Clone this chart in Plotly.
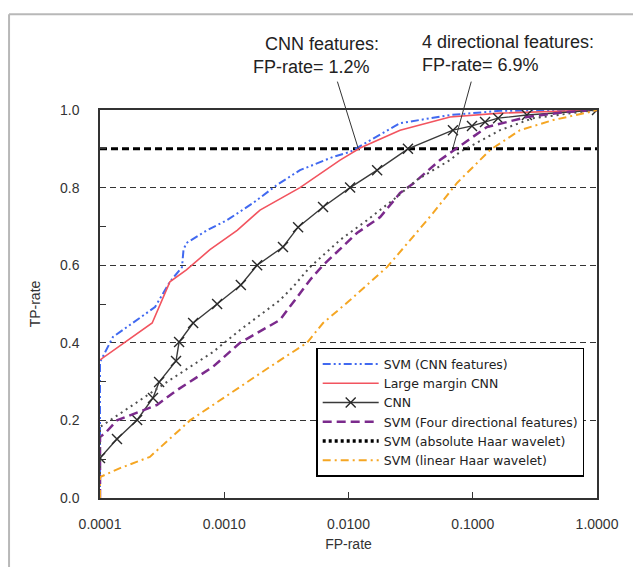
import plotly.graph_objects as go
import math

# ---------------- data ----------------
svm_cnn_x = [0.0001, 0.0001, 0.000127, 0.000277, 0.000365, 0.000457, 0.000470, 0.000496, 0.000726, 0.00105, 0.0017, 0.00266, 0.00407, 0.0075, 0.0103, 0.026, 0.0656, 0.166, 1.0]
svm_cnn_y = [0.0, 0.35, 0.415, 0.492, 0.557, 0.595, 0.64, 0.657, 0.69, 0.716, 0.76, 0.807, 0.845, 0.879, 0.892, 0.966, 0.987, 0.998, 1.0]

lm_cnn_x = [0.0001, 0.000263, 0.000365, 0.000496, 0.000767, 0.00127, 0.00194, 0.00407, 0.00855, 0.0124, 0.026, 0.0656, 0.166, 0.305, 1.0]
lm_cnn_y = [0.356, 0.451, 0.557, 0.588, 0.64, 0.69, 0.742, 0.80, 0.871, 0.902, 0.948, 0.982, 0.992, 0.995, 1.0]

cnn_x = [0.0001, 0.000137, 0.000199, 0.000267, 0.000299, 0.000409, 0.000433, 0.000562, 0.000876, 0.00136, 0.00184, 0.00297, 0.00393, 0.00624, 0.0103, 0.017, 0.0301, 0.0693, 0.0986, 0.1256, 0.16, 0.273, 1.0]
cnn_y = [0.103, 0.152, 0.201, 0.258, 0.299, 0.353, 0.402, 0.451, 0.50, 0.549, 0.60, 0.647, 0.698, 0.75, 0.80, 0.845, 0.90, 0.948, 0.959, 0.969, 0.979, 0.987, 1.0]

four_dir_x = [0.0001, 0.0001, 0.00011, 0.000137, 0.000288, 0.000416, 0.00081, 0.00134, 0.00281, 0.0049, 0.00624, 0.0117, 0.018, 0.026, 0.033, 0.0545, 0.0747, 0.13, 0.273, 0.574, 1.0]
four_dir_y = [0.0, 0.157, 0.167, 0.20, 0.24, 0.278, 0.338, 0.40, 0.459, 0.562, 0.60, 0.683, 0.724, 0.786, 0.81, 0.871, 0.902, 0.956, 0.982, 0.995, 1.0]

abs_haar_x = [0.0001, 0.0001, 0.000175, 0.000365, 0.00081, 0.00134, 0.00281, 0.00357, 0.0049, 0.00855, 0.0141, 0.0245, 0.0356, 0.0656, 0.0789, 0.166, 0.305, 0.77, 1.0]
abs_haar_y = [0.0, 0.183, 0.235, 0.304, 0.376, 0.433, 0.51, 0.544, 0.595, 0.665, 0.716, 0.776, 0.82, 0.871, 0.892, 0.948, 0.979, 0.995, 1.0]

lin_haar_x = [0.0001, 0.0001, 0.000145, 0.000252, 0.00053, 0.00111, 0.00233, 0.00463, 0.00624, 0.0103, 0.0204, 0.033, 0.0478, 0.0747, 0.138, 0.24, 0.443, 0.88, 1.0]
lin_haar_y = [0.0, 0.054, 0.077, 0.106, 0.20, 0.27, 0.338, 0.40, 0.451, 0.51, 0.595, 0.673, 0.734, 0.812, 0.897, 0.948, 0.974, 0.995, 1.0]

threshold_tp = 0.9

x_tick_vals = [0.0001, 0.001, 0.01, 0.1, 1.0]
x_tick_text = ["0.0001", "0.0010", "0.0100", "0.1000", "1.0000"]
y_tick_vals = [0.0, 0.2, 0.4, 0.6, 0.8, 1.0]
y_tick_text = ["0.0", "0.2", "0.4", "0.6", "0.8", "1.0"]

names = ["SVM (CNN features)", "Large margin CNN", "CNN",
         "SVM (Four directional features)", "SVM (absolute Haar wavelet)",
         "SVM (linear Haar wavelet)"]

# annotation pointers
cnn_feat_fp = 0.012
dir_feat_fp = 0.069
cnn_tail = (0.00807, 1.077)
dir_tail = (0.098, 1.077)

FONT = "Liberation Sans, Arial, sans-serif"

fig = go.Figure()

fig.add_trace(go.Scatter(x=svm_cnn_x, y=svm_cnn_y, mode="lines", name=names[0],
                         line=dict(color="#4169f0", width=2, dash="8px,3px,2px,3px,2px,3px")))
fig.add_trace(go.Scatter(x=lm_cnn_x, y=lm_cnn_y, mode="lines", name=names[1],
                         line=dict(color="#f2545f", width=1.6)))
fig.add_trace(go.Scatter(x=cnn_x, y=cnn_y, mode="lines+markers", name=names[2],
                         line=dict(color="#3a3a3a", width=1.4),
                         marker=dict(symbol="x-thin", size=10, line=dict(color="#2a2a2a", width=1.4))))
fig.add_trace(go.Scatter(x=four_dir_x, y=four_dir_y, mode="lines", name=names[3],
                         line=dict(color="#7b2a8c", width=2.5, dash="9px,5px")))
# absolute Haar: plotted as dark dotted curve, legend shows thick black dots
fig.add_trace(go.Scatter(x=abs_haar_x, y=abs_haar_y, mode="lines", showlegend=False,
                         line=dict(color="#505050", width=2, dash="2px,4px")))
fig.add_trace(go.Scatter(x=[None], y=[None], mode="lines", name=names[4],
                         line=dict(color="#000000", width=3.5, dash="3px,3px")))
fig.add_trace(go.Scatter(x=lin_haar_x, y=lin_haar_y, mode="lines", name=names[5],
                         line=dict(color="#f5a623", width=2, dash="8px,4px,2px,4px")))

shapes = []
# outer frame (gray border at left/top)
shapes.append(dict(type="line", xref="paper", yref="paper", x0=-0.183, x1=1.2, y0=1.247, y1=1.247,
                   line=dict(color="#b8b8b8", width=2)))
shapes.append(dict(type="line", xref="paper", yref="paper", x0=-0.183, x1=-0.183, y0=1.247, y1=-0.3,
                   line=dict(color="#b8b8b8", width=2)))
# threshold line
shapes.append(dict(type="line", xref="paper", yref="y", x0=0, x1=1, y0=threshold_tp, y1=threshold_tp,
                   line=dict(color="#000000", width=3, dash="7px,4px"), layer="below"))

annotations = []
for (tail, head_x) in [(cnn_tail, cnn_feat_fp), (dir_tail, dir_feat_fp)]:
    annotations.append(dict(x=math.log10(head_x), y=threshold_tp, xref="x", yref="y",
                            ax=math.log10(tail[0]), ay=tail[1], axref="x", ayref="y",
                            text="", showarrow=True, arrowhead=0, arrowwidth=1,
                            arrowcolor="#333333", standoff=0, startstandoff=0))

txt = [("CNN features:", 0.328, 1.170), ("FP-rate= 1.2%", 0.304, 1.111),
       ("4 directional features:", 0.644, 1.175), ("FP-rate= 6.9%", 0.644, 1.116)]
for t, x, y in txt:
    annotations.append(dict(text=t, x=x, y=y, xref="paper", yref="paper", xanchor="left",
                            yanchor="middle", showarrow=False,
                            font=dict(family=FONT, size=18, color="#222222")))

fig.update_layout(
    width=633, height=567,
    margin=dict(l=100, r=36, t=110, b=69),
    paper_bgcolor="white", plot_bgcolor="white",
    font=dict(family=FONT, size=14, color="#333333"),
    shapes=shapes, annotations=annotations,
    legend=dict(x=0.435, y=0.387, xanchor="left", yanchor="top",
                bgcolor="white", bordercolor="#000000", borderwidth=1.5,
                font=dict(family="DejaVu Sans, sans-serif", size=12.5, color="#222222"),
                itemwidth=56, tracegroupgap=0),
    xaxis=dict(type="log", range=[-4, 0], tickvals=x_tick_vals, ticktext=x_tick_text,
               ticks="inside", ticklen=6, tickcolor="#333333", showgrid=False,
               showline=True, linecolor="#333333", linewidth=1.5, mirror=True,
               zeroline=False, ticklabelstandoff=12,
               title=dict(text="FP-rate", standoff=9, font=dict(size=14))),
    yaxis=dict(range=[0, 1], tickvals=y_tick_vals, ticktext=y_tick_text,
               ticks="inside", ticklen=6, tickcolor="#333333",
               showgrid=True, gridcolor="#333333", griddash="6px,4px", gridwidth=1,
               minor=dict(dtick=0.1, ticks="inside", ticklen=6, tickcolor="#333333", showgrid=False),
               showline=True, linecolor="#333333", linewidth=1.5, mirror=True,
               zeroline=False, ticklabelstandoff=16,
               title=dict(text="TP-rate", standoff=16, font=dict(size=14))),
)

fig.write_html("out.html")
